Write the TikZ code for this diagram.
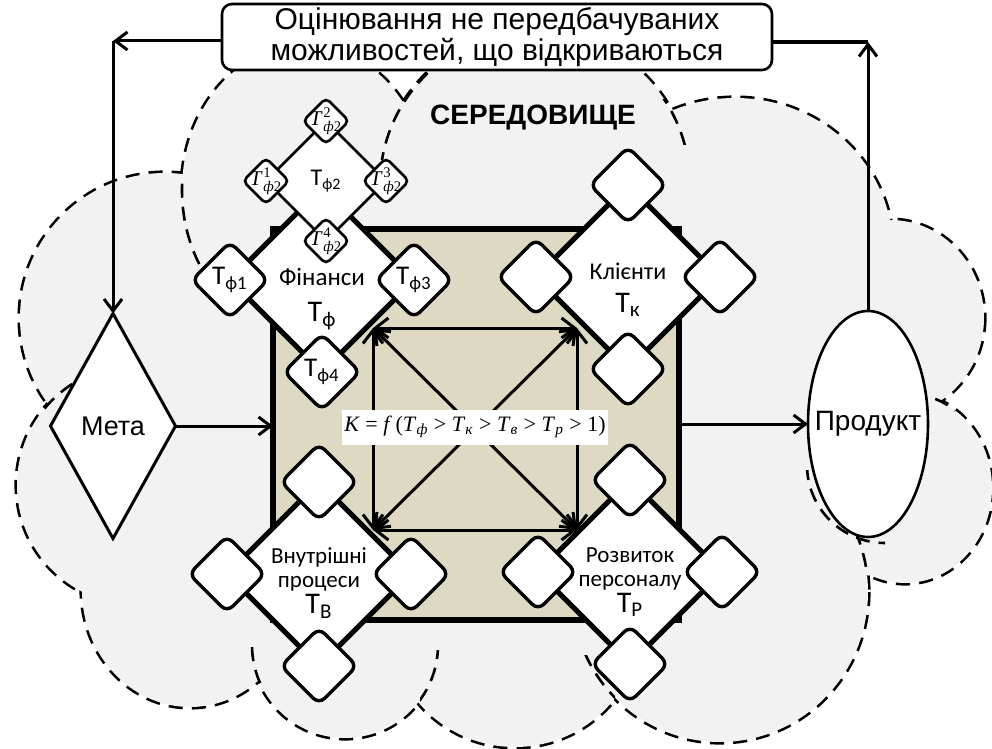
\documentclass[tikz,border=0pt]{standalone}
\usepackage{fontspec}
\usepackage{amsmath}
\setmainfont{Carlito}
\newfontfamily\arialfont{Liberation Sans}
\newfontfamily\timesfont{Liberation Serif}
\usetikzlibrary{shapes.geometric,arrows.meta}
\definecolor{envgray}{HTML}{F2F2F2}
\definecolor{coretan}{HTML}{DDD9C3}
\newcommand{\Tsub}[1]{T\textsubscript{#1}}
\newcommand{\lobes}{305/190/123/145, 535/185/155/155, 735/250/158/152,
  890/318/94/98, 905/488/87/95, 720/592/148/150, 515/620/127/127,
  345/645/93/93, 190/590/108/117, 137/485/120/120, 165/318/145/145}
\tikzset{
  cloud line/.style={draw=black, line width=2.6pt, dash pattern=on 7pt off 4.5pt},
  cloud part/.style={draw=black, line width=1.3pt, dash pattern=on 7pt off 4.5pt},
  big rhombus/.style={shape=diamond, draw, fill=white, line width=2.5pt,
    minimum width=92pt, minimum height=92pt, inner sep=0pt, outer sep=0pt},
  small rhombus/.style={shape=diamond, draw, fill=white, line width=1.7pt,
    rounded corners=4pt, minimum width=38pt, minimum height=38pt,
    inner sep=0pt, outer sep=0pt, font=\fontsize{13.5}{13.5}\selectfont},
  tiny rhombus/.style={shape=diamond, draw, fill=white, line width=1.3pt,
    rounded corners=2.5pt, minimum width=23pt, minimum height=23pt,
    inner sep=0pt, outer sep=0pt},
  link/.style={line width=1.5pt, -{Straight Barb[length=6pt,width=9pt]}},
  both ways/.style={line width=1.5pt,
    {Straight Barb[length=6.5pt,width=10pt]}-{Straight Barb[length=6.5pt,width=10pt]}},
}

\begin{document}
\begin{tikzpicture}[x=0.5pt, y=-0.5pt]
\useasboundingbox (0,0) rectangle (992,749);

% environment cloud
\foreach \cx/\cy/\rx/\ry in \lobes
  \draw[cloud line] (\cx,\cy) ellipse [x radius=\rx, y radius=\ry];
\foreach \cx/\cy/\rx/\ry in \lobes
  \fill[envgray] (\cx,\cy) ellipse [x radius=\rx, y radius=\ry];
\fill[envgray] (500,420) ellipse [x radius=380, y radius=250];
\foreach \cx/\cy/\rx/\ry/\xa/\ya/\xb/\yb in
  {305/190/123/145/168/178/215/280, 535/185/155/155/372/72/428/160,
   535/185/155/155/660/100/695/145, 905/488/87/95/875/385/955/418,
   720/592/148/150/578/655/615/705, 720/592/148/150/845/525/880/575,
   345/645/93/93/238/640/262/690, 345/645/93/93/420/650/445/705,
   137/485/120/120/30/360/95/412, 885/465/78/78/798/470/885/560}
  {\begin{scope}
     \clip (\xa,\ya) rectangle (\xb,\yb);
     \draw[cloud part] (\cx,\cy) ellipse [x radius=\rx, y radius=\ry];
   \end{scope}}

% core square
\node[draw, line width=3pt, fill=coretan, minimum width=203pt, minimum height=195.5pt,
  inner sep=0pt, outer sep=0pt] (core) at (476,424.5) {};

% feedback loop
\node[draw, line width=1.3pt, rounded corners=5pt, fill=white, minimum width=275pt,
  minimum height=33pt, inner sep=0pt, align=center,
  font=\arialfont\fontsize{15}{15.5}\selectfont] (review) at (497,37)
  {Оцінювання не передбачуваних\\можливостей, що відкриваються};
\coordinate (fb-left) at (113,41);
\coordinate (fb-right) at (868,42);
\node[font=\arialfont\bfseries\fontsize{14}{14}\selectfont] (env) at (533,118) {СЕРЕДОВИЩЕ};

\node[shape=diamond, draw, fill=white, line width=1.5pt, minimum width=62.5pt,
  minimum height=112.5pt, inner sep=0pt, outer sep=0pt,
  font=\arialfont\fontsize{13.5}{14}\selectfont] (goal) at (113,426) {Мета};
\node[shape=ellipse, draw, fill=white, line width=1.3pt, minimum width=60pt,
  minimum height=113pt, inner sep=0pt, outer sep=0pt] (product) at (868,424) {};
\node[font=\arialfont\fontsize{14}{14}\selectfont] (product-txt) at (product) {Продукт};

\draw[link] (review.west |- fb-left) -- (fb-left);
\draw[link] (fb-left) -- (goal.north);
\draw[link] (product.north) -- (fb-right);
\draw[line width=2pt] (fb-right) -- (review.east |- fb-right);
\draw[link] (goal.east) -- (goal.east -| core.west);
\draw[link] (core.east |- product.west) -- (product.west);

% perspectives
\node[big rhombus] (fin) at (322,280) {};
\node[big rhombus] (kli) at (628,277) {};
\node[big rhombus] (vnu) at (319,574) {};
\node[big rhombus] (roz) at (630,572) {};
\foreach \big in {kli,vnu,roz}
  \foreach \side in {north,west,east,south}
    \node[small rhombus] (\big-\side) at (\big.\side) {};
\foreach \side/\k in {west/1,east/3,south/4}
  \node[small rhombus] (fin-\k) at (fin.\side) {\Tsub{ф\k}};
\node[shape=diamond, draw, fill=white, line width=1.3pt, minimum width=60pt,
  minimum height=60pt, inner sep=0pt, outer sep=0pt,
  font=\fontsize{12}{12}\selectfont] (fin-2) at (326,181) {\Tsub{ф2}};
\foreach \side/\k in {west/1,north/2,east/3,south/4}{
  \node[tiny rhombus] (f2-\k) at (fin-2.\side) {};
  \node[font=\timesfont\fontsize{10.5}{10.5}\selectfont, inner sep=0pt] (f2-\k-txt)
    at (f2-\k) {${\textit{T}\kern1pt}^{\textup{\k}}_{\textit{ф}\textup{2}}$};
}

\node[align=center, font=\fontsize{12.5}{18}\selectfont] (fin-txt) at (322,299)
  {Фінанси\\{\fontsize{15}{18}\selectfont\Tsub{ф}}};
\node[align=center, font=\fontsize{12}{16.5}\selectfont] (kli-txt) at (628,290)
  {Клієнти\\{\fontsize{15}{16.5}\selectfont\Tsub{к}}};
\node[align=center, font=\fontsize{11.5}{12}\selectfont] (vnu-txt) at (319,583)
  {Внутрішні\\процеси\\[1pt]{\fontsize{15}{12}\selectfont\Tsub{В}}};
\node[align=center, font=\fontsize{11.5}{12}\selectfont] (roz-txt) at (630,582)
  {Розвиток\\персоналу\\[1pt]{\fontsize{15}{12}\selectfont\Tsub{Р}}};

% links between perspectives
\coordinate (a-fin) at (373,328);
\coordinate (a-kli) at (577,328);
\coordinate (a-vnu) at (373,530);
\coordinate (a-roz) at (577,530);
\foreach \s/\t in {a-fin/a-kli, a-fin/a-vnu, a-fin/a-roz, a-kli/a-roz, a-kli/a-vnu, a-vnu/a-roz}
  \draw[both ways] (\s) -- (\t);
\node[fill=white, inner sep=1pt, minimum width=132pt, minimum height=17.5pt,
  font=\timesfont\fontsize{11}{12}\selectfont] (kform) at (475,427)
  {\textit{K} = \textit{f}\,(\textit{T}\textsubscript{\textit{ф}} > \textit{T}\textsubscript{\textit{к}}
   > \textit{T}\textsubscript{\textit{в}} > \textit{T}\textsubscript{\textit{р}} > 1)};
\end{tikzpicture}
\end{document}
